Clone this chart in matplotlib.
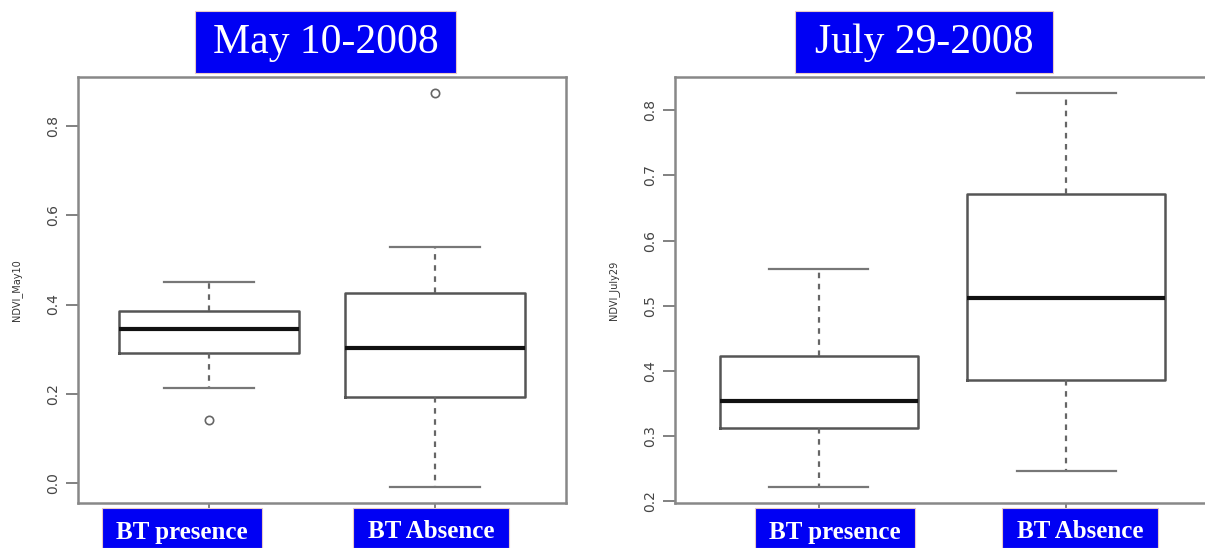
import matplotlib
matplotlib.use("Agg")
import matplotlib.pyplot as plt
from matplotlib.patches import Rectangle

# categories and box statistics
categories = ["BT presence", "BT Absence"]
titles = ["May 10-2008", "July 29-2008"]
ylabels = ["NDVI_May10", "NDVI_July29"]

may_whislo = [0.212, -0.009]
may_q1 = [0.292, 0.194]
may_med = [0.345, 0.302]
may_q3 = [0.386, 0.426]
may_whishi = [0.450, 0.529]
may_fliers = [[0.142], [0.874]]
may_yticks = [0.0, 0.2, 0.4, 0.6, 0.8]

jul_whislo = [0.221, 0.246]
jul_q1 = [0.312, 0.385]
jul_med = [0.353, 0.511]
jul_q3 = [0.423, 0.672]
jul_whishi = [0.557, 0.827]
jul_fliers = [[], []]
jul_yticks = [0.2, 0.3, 0.4, 0.5, 0.6, 0.7, 0.8]

BLUE = "#0000f4"
W, H = 1205, 548


def fx(px):
    return px / W


def fy(py):
    return 1 - py / H


def make_stats(whislo, q1, med, q3, whishi, fliers):
    stats = []
    for i in range(len(categories)):
        stats.append({"whislo": whislo[i], "q1": q1[i], "med": med[i],
                      "q3": q3[i], "whishi": whishi[i], "fliers": fliers[i],
                      "label": categories[i]})
    return stats


def draw_panel(ax, stats, yticks, ylabel):
    ax.bxp(stats, positions=[1, 2], widths=0.8, showfliers=True,
           boxprops=dict(color="#555555", linewidth=1.8),
           medianprops=dict(color="#111111", linewidth=3),
           whiskerprops=dict(color="#666666", linewidth=1.6, linestyle=(0, (2.5, 2.5))),
           capprops=dict(color="#777777", linewidth=1.6),
           flierprops=dict(marker="o", markerfacecolor="none",
                           markeredgecolor="#666666", markersize=6,
                           markeredgewidth=1.2))
    # R-style limits: 4% padding around the data
    lo = min(min(s["whislo"], *(s["fliers"] or [s["whislo"]])) for s in stats)
    hi = max(max(s["whishi"], *(s["fliers"] or [s["whishi"]])) for s in stats)
    pad = 0.04 * (hi - lo)
    ax.set_ylim(lo - pad, hi + pad)
    ax.set_xlim(0.42, 2.58)
    ax.set_yticks(yticks)
    ax.set_yticklabels([f"{t:.1f}" for t in yticks])
    ax.set_xticks([1, 2])
    ax.set_xticklabels(["", ""])
    ax.tick_params(axis="y", labelrotation=90, length=9, width=1.3,
                   color="#777777", labelcolor="#444444", labelsize=10, pad=4)
    ax.tick_params(axis="x", length=5, width=1.3, color="#777777")
    for lab in ax.get_yticklabels():
        lab.set_verticalalignment("center")
    for sp in ax.spines.values():
        sp.set_color("#888888")
        sp.set_linewidth(1.8)
    ax.set_ylabel(ylabel, fontsize=7, color="#333333", labelpad=17)


fig = plt.figure(figsize=(W / 100, H / 100), dpi=100)

ax1 = fig.add_axes([fx(78), fy(503), fx(566) - fx(78), fy(77) - fy(503)])
ax2 = fig.add_axes([fx(675), fy(503), fx(1210) - fx(675), fy(77) - fy(503)])

draw_panel(ax1, make_stats(may_whislo, may_q1, may_med, may_q3, may_whishi, may_fliers),
           may_yticks, ylabels[0])
draw_panel(ax2, make_stats(jul_whislo, jul_q1, jul_med, jul_q3, jul_whishi, jul_fliers),
           jul_yticks, ylabels[1])

# blue title boxes
title_boxes = [(195, 456), (795, 1053)]
for (x0, x1), t in zip(title_boxes, titles):
    fig.patches.append(Rectangle((fx(x0), fy(73)), fx(x1) - fx(x0), fy(11) - fy(73),
                                 transform=fig.transFigure, facecolor=BLUE,
                                 edgecolor="#e8c8c8", linewidth=0.8, zorder=5))
    fig.text(fx((x0 + x1) / 2), fy(43), t, ha="center", va="center",
             color="white", fontsize=30, family="Liberation Serif", zorder=6)

# blue category label boxes
label_boxes = [(102, 262), (353, 509), (755, 915), (1002, 1158)]
for i, (x0, x1) in enumerate(label_boxes):
    fig.patches.append(Rectangle((fx(x0), 0), fx(x1) - fx(x0), fy(508),
                                 transform=fig.transFigure, facecolor=BLUE,
                                 edgecolor="#e8c8c8", linewidth=0.8, zorder=5))
    fig.text(fx((x0 + x1) / 2), fy(532), categories[i % 2], ha="center",
             va="center", color="white", fontsize=18, fontweight="bold",
             family="Liberation Serif", zorder=6)

fig.savefig("out.png", dpi=100)
